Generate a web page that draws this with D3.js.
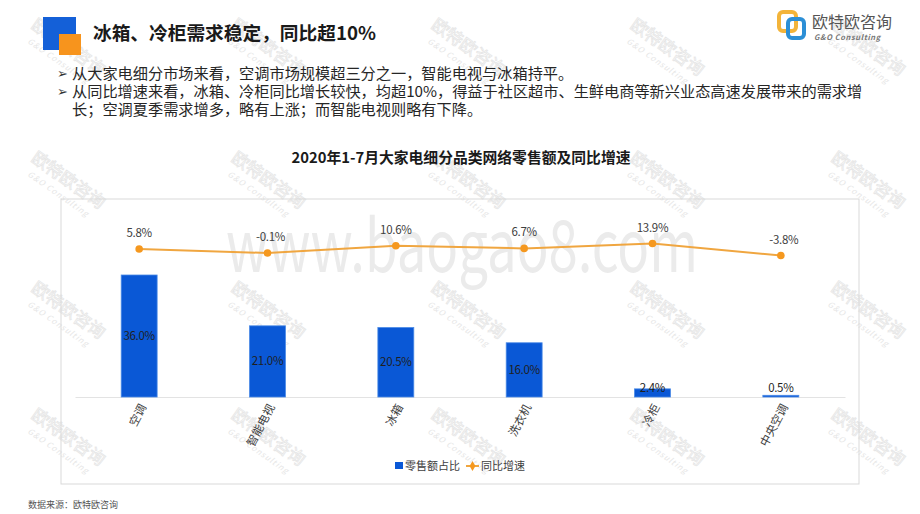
<!DOCTYPE html>
<html>
<head>
<meta charset="utf-8">
<script src="https://cdn.jsdelivr.net/npm/d3@7/dist/d3.min.js"></script>
<style>
  html, body { margin: 0; padding: 0; background: #fff; }
  svg { display: block; }
  text { font-family: "Noto Sans CJK SC", "Noto Sans", sans-serif; }
</style>
</head>
<body>
<script>
// ---- data ----
const categories = ["空调", "智能电视", "冰箱", "洗衣机", "冷柜", "中央空调"];
const shareValues = [36.0, 21.0, 20.5, 16.0, 2.4, 0.5];      // 零售额占比 (%)
const growthValues = [5.8, -0.1, 10.6, 6.7, 13.9, -3.8];     // 同比增速 (%)
const seriesNames = ["零售额占比", "同比增速"];
const headline = "冰箱、冷柜需求稳定，同比超10%";
const bullets = [
  "从大家电细分市场来看，空调市场规模超三分之一，智能电视与冰箱持平。",
  "从同比增速来看，冰箱、冷柜同比增长较快，均超10%，得益于社区超市、生鲜电商等新兴业态高速发展带来的需求增",
  "长；空调夏季需求增多，略有上涨；而智能电视则略有下降。"
];
const chartTitle = "2020年1-7月大家电细分品类网络零售额及同比增速";
const sourceText = "数据来源：欧特欧咨询";

// ---- style ----
const W = 920, H = 514;
const BLUE = "#0a58d6", ORANGE_LINE = "#f0a640", ORANGE_PT = "#f5981f";

const svg = d3.select("body").append("svg").attr("width", W).attr("height", H);

// watermarks (background)
const wm = svg.append("g");
wm.append("text").attr("x", 462).attr("y", 272).attr("text-anchor", "middle")
  .attr("font-family", "'Liberation Sans Narrow', 'DejaVu Sans Condensed', sans-serif")
  .attr("font-size", 72).attr("fill", "#ebebeb").attr("textLength", 472)
  .attr("lengthAdjust", "spacingAndGlyphs").text("www.baogao8.com");
const wmCols = [65, 265, 465, 664, 865], wmRows = [52, 185, 315, 442];
wmRows.forEach(ry => wmCols.forEach(cx => {
  const g = wm.append("g").attr("transform", `translate(${cx},${ry}) rotate(35)`);
  g.append("text").attr("text-anchor", "middle").attr("y", 0).attr("font-size", 17)
    .attr("fill", "none").attr("stroke", "#e6e6e6").attr("stroke-width", 0.8).text("欧特欧咨询");
  g.append("text").attr("text-anchor", "middle").attr("y", 14).attr("font-size", 8)
    .attr("font-style", "italic").attr("fill", "#e6e6e6").attr("letter-spacing", 1).text("G&O Consulting");
}));

// header squares
svg.append("rect").attr("x", 43).attr("y", 17).attr("width", 33).attr("height", 33).attr("fill", "#1460d8");
svg.append("rect").attr("x", 59).attr("y", 34).attr("width", 22).attr("height", 21).attr("fill", "#f7941d");
svg.append("text").attr("x", 93).attr("y", 40).attr("font-size", 18.7).attr("font-weight", "bold")
  .attr("fill", "#1a1a1a").text(headline);

// bullets
const bulletY = [78.5, 96.5, 114.5];
bullets.forEach((t, i) => {
  if (i < 2) svg.append("text").attr("x", 57).attr("y", bulletY[i] - 0.5).attr("font-size", 13)
    .attr("font-family", "DejaVu Sans").attr("fill", "#333").text("➢");
  svg.append("text").attr("x", 72).attr("y", bulletY[i]).attr("font-size", 15.2)
    .attr("fill", "#262626").text(t);
});

// logo
const logo = svg.append("g");
logo.append("rect").attr("x", 779).attr("y", 12).attr("width", 17).attr("height", 19).attr("rx", 4)
  .attr("fill", "none").attr("stroke", "#f3b43a").attr("stroke-width", 4);
logo.append("rect").attr("x", 788).attr("y", 19).attr("width", 16).attr("height", 19).attr("rx", 4)
  .attr("fill", "none").attr("stroke", "#2c8fd6").attr("stroke-width", 4);
logo.append("text").attr("x", 812).attr("y", 28).attr("font-size", 16).attr("fill", "#555").text("欧特欧咨询");
logo.append("text").attr("x", 814).attr("y", 40).attr("font-size", 7.5).attr("font-style", "italic")
  .attr("font-weight", "bold").attr("fill", "#777").attr("letter-spacing", 0.6).text("G&O Consulting");

// chart frame
svg.append("rect").attr("x", 61).attr("y", 199).attr("width", 798).attr("height", 285)
  .attr("fill", "none").attr("stroke", "#d9d9d9").attr("stroke-width", 1);
svg.append("text").attr("x", 461).attr("y", 163).attr("text-anchor", "middle").attr("font-size", 14.8)
  .attr("font-weight", "bold").attr("fill", "#1a1a1a").text(chartTitle);

// scales
const x = d3.scaleBand().domain(categories).range([75, 845]).padding(0);
const barW = x.bandwidth() * 0.28;
const yBar = d3.scaleLinear().domain([0, 36]).range([397, 275]);
const yLine = d3.scaleLinear().domain([-3.8, 13.9]).range([255.5, 243.5]);
const cx = c => x(c) + x.bandwidth() / 2;

// baseline axis
const axis = d3.axisBottom(x).tickSize(0).tickFormat("");
const ag = svg.append("g").attr("transform", "translate(0,397)").call(axis);
ag.select(".domain").attr("stroke", "#e3e3e3").attr("stroke-width", 1.2);

// bars
const bars = categories.map((c, i) => ({ c, v: shareValues[i] }));
svg.append("g").selectAll("rect").data(bars).join("rect")
  .attr("x", d => cx(d.c) - barW / 2).attr("width", barW)
  .attr("y", d => yBar(d.v)).attr("height", d => yBar(0) - yBar(d.v))
  .attr("fill", BLUE).attr("stroke", "#4a8ae6").attr("stroke-width", 0.8);
svg.append("g").selectAll("text").data(bars).join("text")
  .attr("x", d => cx(d.c)).attr("text-anchor", "middle")
  .attr("y", d => Math.min((yBar(d.v) + yBar(0)) / 2, 388) + 4)
  .attr("font-size", 11.5).attr("fill", "#1f1f1f").attr("letter-spacing", -0.3)
  .text(d => d.v.toFixed(1) + "%");

// category labels (rotated)
svg.append("g").selectAll("text").data(categories).join("text")
  .attr("transform", c => `translate(${cx(c) + 4},${405}) rotate(-62)`)
  .attr("text-anchor", "end").attr("dy", "0.35em").attr("font-size", 11.5).attr("fill", "#404040")
  .text(c => c);

// line
const pts = categories.map((c, i) => ({ c, v: growthValues[i] }));
const line = d3.line().x(d => cx(d.c)).y(d => yLine(d.v));
svg.append("path").datum(pts).attr("d", line).attr("fill", "none")
  .attr("stroke", ORANGE_LINE).attr("stroke-width", 2);
svg.append("g").selectAll("circle").data(pts).join("circle")
  .attr("cx", d => cx(d.c)).attr("cy", d => yLine(d.v)).attr("r", 3.8).attr("fill", ORANGE_PT);
svg.append("g").selectAll("text").data(pts).join("text")
  .attr("x", d => cx(d.c) + (d.v < 0 ? 3 : 0)).attr("y", d => yLine(d.v) - 12)
  .attr("text-anchor", "middle").attr("font-size", 11.5).attr("fill", "#404040").attr("letter-spacing", -0.3)
  .text(d => d.v.toFixed(1) + "%");

// legend
const lg = svg.append("g");
lg.append("rect").attr("x", 395).attr("y", 462).attr("width", 8).attr("height", 7).attr("fill", BLUE);
lg.append("text").attr("x", 405).attr("y", 470).attr("font-size", 11).attr("fill", "#404040").text(seriesNames[0]);
lg.append("line").attr("x1", 466).attr("x2", 479).attr("y1", 466).attr("y2", 466)
  .attr("stroke", ORANGE_LINE).attr("stroke-width", 2);
lg.append("path").attr("d", d3.symbol(d3.symbolDiamond, 30)()).attr("transform", "translate(472.5,466)")
  .attr("fill", ORANGE_PT);
lg.append("text").attr("x", 481).attr("y", 470).attr("font-size", 11).attr("fill", "#404040").text(seriesNames[1]);

// source
svg.append("text").attr("x", 28).attr("y", 508).attr("font-size", 9).attr("fill", "#555").text(sourceText);
</script>
</body>
</html>
